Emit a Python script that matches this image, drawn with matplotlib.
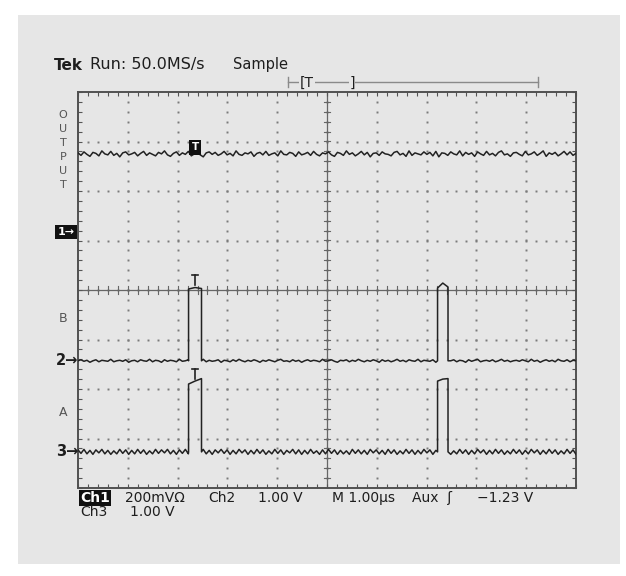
import numpy as np
import matplotlib.pyplot as plt
from matplotlib.patches import Rectangle

# scope screen: 10 x 8 divisions, 1.00 us/div
pulse_start = [2.22, 7.22]   # us
pulse_end = [2.48, 7.43]

ch1_level = 6.75             # divisions
ch1_marker = 5.17
ch2_level = 2.57
ch2_tops = [[4.02, 4.05, 4.03], [4.04, 4.14, 4.06]]
ch3_level = 0.73
ch3_tops = [[2.10, 2.16, 2.21], [2.16, 2.20, 2.21]]

# noise, in 1/100 division
ch1_noise = [2, -3, 4, -1, -5, 3, 1, -4, 6, 0, -2, 5, -3, 1, -6, 2, 4, -2, 0, 3, -4,
             1, 5, -3, 2, -1, -4, 3, 0, 6, -2, -5, 1, 4, -3, 2, -1, 5, -4, 0, 3, -2,
             -6, 2, 4, -1, 3, -3, 0, 5, -2, 1, -4, 6, -1, -3, 2, 0, 4, -5, 1, 3, -2,
             5, -3, 0, 2, -4, 6, -1, -2, 3, 1, -5, 4, -2, 0, 3, -3, 5, -1, -4, 2, 0,
             4, -2, -5, 3, 1, -3, 6, -1, 2, -4, 0, 5, -2, 3, -6, 1, 2, -3, 4, 0, -1,
             -4, 3, 5, -2, 1, -5, 6, -3, 2, 0, -2, 4, -1, 3, -4, 5, -6, 2, 1, -3, 4,
             0, -2, 6, -4, 3, -1, 2, -5, 4, 0, -3, 5, -2, 1, -4, 3, 6, -2, 0, -5, 2,
             3, -1, -4, 5, -2, 0, 4, -3, 1, 6, -5, 2, -1, 3, -4, 0, 5, -2, 4, -3, 1]
ch2_noise = [0, 2, -1, 1, -3, 0, 2, -2, 1, 0, -1, 3, -2, 0, 1, -1, 2, -3, 0, 1, -2,
             2, 0, -1, 3, -2, 1, 0, -3, 2, -1, 1, 0, -2, 3, -1, 0, 2, -2, 1, -1, 0,
             3, -2, 1, -1, 0, 2, -3, 1, 0, -2, 2, -1, 3, 0, -2, 1, -1, 2, 0, -3, 1,
             -1, 2, 0, -2, 1, 3, -1, 0, -2, 2, -1, 1, -3, 0, 2, -1, 1, 0, -2, 3, -1,
             0, 2, -1, -3, 1, 0, 2, -2, 1, -1, 3, 0, -2, 1, -1, 2, 0, -3, 2, -1, 1,
             -2, 0, 3, -1, 1, -2, 2, 0, -1, 3, -2, 1, 0, -1, 2, -3, 1, 0, 2, -1, 0,
             2, -2, 1, 0, -3, 2, -1, 1, 3, -2, 0, 1, -1, 2, -2, 0, 3, -1, 1, -2, 0,
             1, -1, 2, 0, -2, 3, -1, 1, -3, 0, 2, -1, 1, -2, 3, 0, -1, 2, -2, 1, 0]
ch3_noise = [4, -3, 5, -4, 3, -5, 4, -2, 5, -4, 3, -5, 2, -4, 5, -3, 4, -5, 3, -4, 5,
             -3, 4, -5, 2, -4, 5, -3, 4, -2, 5, -4, 3, -5, 4, -3, 5, -4, 2, -5, 4, -3,
             5, -4, 3, -5, 4, -2, 5, -3, 4, -5, 3, -4, 5, -2, 4, -5, 3, -4, 5, -3, 4,
             -5, 2, -4, 5, -3, 4, -5, 3, -2, 5, -4, 4, -5, 3, -4, 5, -3, 2, -5, 4, -4,
             5, -3, 4, -5, 3, -4, 2, -5, 5, -3, 4, -4, 3, -5, 5, -2, 4, -4, 3, -5, 5,
             -3, 4, -5, 2, -4, 5, -3, 4, -5, 3, -4, 5, -2, 4, -5, 3, -3, 5, -4, 4, -5,
             2, -4, 5, -3, 4, -5, 3, -4, 5, -2, 4, -5, 3, -4, 5, -3, 4, -5, 2, -4, 5,
             -3, 4, -5, 3, -4, 5, -2, 4, -5, 3, -4, 5, -3, 4, -5, 2, -4, 5, -3, 4, -5]

bottom_row1 = [('200mV\u03a9', 125), ('Ch2', 208), ('1.00 V', 258),
               ('M 1.00\u00b5s', 332), ('Aux  \u0283', 412), ('\u22121.23 V', 477)]
bottom_row2 = [('1.00 V', 130)]

W, H = 626, 576
fg = '#1e1e1e'
panel = '#e6e6e6'


def px(x, y):
    return x / W, 1 - y / H


def trace(level, noise, tops=None):
    t = np.linspace(0, 10, len(noise))
    y = level + np.array(noise) / 100.0
    pts = []
    for ti, yi in zip(t, y):
        inside = tops is not None and any(s <= ti <= e for s, e in zip(pulse_start, pulse_end))
        if not inside:
            pts.append((ti, 1, yi))
    if tops is not None:
        for s, e, top in zip(pulse_start, pulse_end, tops):
            pts.append((s, 0, level))
            pts.append((s, 2, top[0]))
            pts.append(((s + e) / 2, 1, top[1]))
            pts.append((e, 0, top[2]))
            pts.append((e, 2, level))
    pts.sort(key=lambda p: (p[0], p[1]))
    return [p[0] for p in pts], [p[2] for p in pts]


fig = plt.figure(figsize=(W / 100, H / 100), dpi=100)
fig.patch.set_facecolor('white')
x0, y0 = px(18, 564)
fig.patches.append(Rectangle((x0, y0), 602 / W, 549 / H, transform=fig.transFigure,
                             facecolor=panel, edgecolor='none', zorder=-5))

ax = fig.add_axes([78 / W, 1 - 488 / H, 498 / W, 396 / H])
ax.set_zorder(2)
ax.set_facecolor('none')
ax.set_xlim(0, 10)
ax.set_ylim(0, 8)
for sp in ax.spines.values():
    sp.set_color('#505050')
    sp.set_linewidth(1.4)
ax.set_xticks(np.arange(0, 10.01, 0.2))
ax.set_yticks(np.arange(0, 8.01, 0.2))
ax.tick_params(direction='in', top=True, right=True, length=3, width=0.8,
               color='#555555', labelbottom=False, labelleft=False)

# dotted graticule
gx, gy = [], []
for k in range(1, 10):
    for j in np.arange(0.2, 8, 0.2):
        gx.append(k); gy.append(j)
for k in range(1, 8):
    for j in np.arange(0.2, 10, 0.2):
        gx.append(j); gy.append(k)
ax.plot(gx, gy, 's', ms=1.4, mec='none', color='#7a7a7a', zorder=1)

# center crosshair with minor ticks
ax.axvline(5, color='#666666', lw=0.9, zorder=1)
ax.axhline(4, color='#666666', lw=0.9, zorder=1)
for j in np.arange(0.2, 8, 0.2):
    ax.plot([4.93, 5.07], [j, j], color='#666666', lw=0.8, zorder=1)
for j in np.arange(0.2, 10, 0.2):
    ax.plot([j, j], [3.92, 4.08], color='#666666', lw=0.8, zorder=1)

# traces
for level, noise, tops in [(ch1_level, ch1_noise, None),
                           (ch2_level, ch2_noise, ch2_tops),
                           (ch3_level, ch3_noise, ch3_tops)]:
    tx, ty = trace(level, noise, tops)
    ax.plot(tx, ty, color='#222222', lw=1.1, zorder=3)

# cursor marks over first pulse
mx = (pulse_start[0] + pulse_end[0]) / 2
for top in (ch2_tops[0][1], ch3_tops[0][1]):
    ax.plot([mx, mx], [top + 0.05, top + 0.25], color='#222222', lw=1.2, zorder=4)
    ax.plot([mx - 0.06, mx + 0.06], [top + 0.25, top + 0.25], color='#222222', lw=1.2, zorder=4)
ax.text(mx, ch1_level + 0.13, 'T', ha='center', va='center', color='white',
        fontsize=7.5, fontweight='bold', zorder=5,
        bbox=dict(boxstyle='square,pad=0.2', fc='#111111', ec='none'))

# header
fig.text(*px(54, 65), 'Tek', fontsize=11, fontweight='bold', color=fg, va='center')
fig.text(*px(90, 65), 'Run: 50.0MS/s', fontsize=11.5, color=fg, va='center')
fig.text(*px(233, 65), 'Sample', fontsize=10.5, color=fg, va='center')
fig.add_artist(plt.Line2D([288 / W, 538 / W], [1 - 82 / H] * 2, transform=fig.transFigure,
                          color='#8a8a8a', lw=1))
for xe in (288, 538):
    fig.add_artist(plt.Line2D([xe / W] * 2, [1 - 77 / H, 1 - 87 / H],
                              transform=fig.transFigure, color='#8a8a8a', lw=1))
fig.text(*px(307, 83), '[T', fontsize=10, color=fg, va='center', ha='center',
         bbox=dict(boxstyle='square,pad=0.05', fc=panel, ec='none'))
fig.text(*px(352, 83), ']', fontsize=10, color=fg, va='center', ha='center',
         bbox=dict(boxstyle='square,pad=0.05', fc=panel, ec='none'))

# left channel labels
for i, ch in enumerate('OUTPUT'):
    fig.text(*px(63, 115 + 14 * i), ch, fontsize=8, color='#555555',
             ha='center', va='center')
fig.text(*px(63, 318), 'B', fontsize=9, color='#555555', ha='center', va='center')
fig.text(*px(63, 412), 'A', fontsize=9, color='#555555', ha='center', va='center')
y1 = 488 - ch1_marker * 49.5
fig.text(*px(66, y1), '1\u2192', fontsize=8, fontweight='bold', color='white',
         ha='center', va='center',
         bbox=dict(boxstyle='square,pad=0.2', fc='#111111', ec='none'))
for lab, lev in (('2\u2192', ch2_level), ('3\u2192', ch3_level)):
    fig.text(*px(78, 488 - lev * 49.5), lab, fontsize=10.5, fontweight='bold',
             color=fg, ha='right', va='center')

# bottom readout
fig.text(*px(80, 498), 'Ch1', fontsize=10, fontweight='bold', color='white',
         va='center', bbox=dict(boxstyle='square,pad=0.05', fc='#111111', ec='none'))
for txt, xp in bottom_row1:
    fig.text(*px(xp, 498), txt, fontsize=10, color=fg, va='center')
fig.text(*px(80, 512), 'Ch3', fontsize=10, color=fg, va='center')
for txt, xp in bottom_row2:
    fig.text(*px(xp, 512), txt, fontsize=10, color=fg, va='center')

fig.savefig('out.png', dpi=100)
